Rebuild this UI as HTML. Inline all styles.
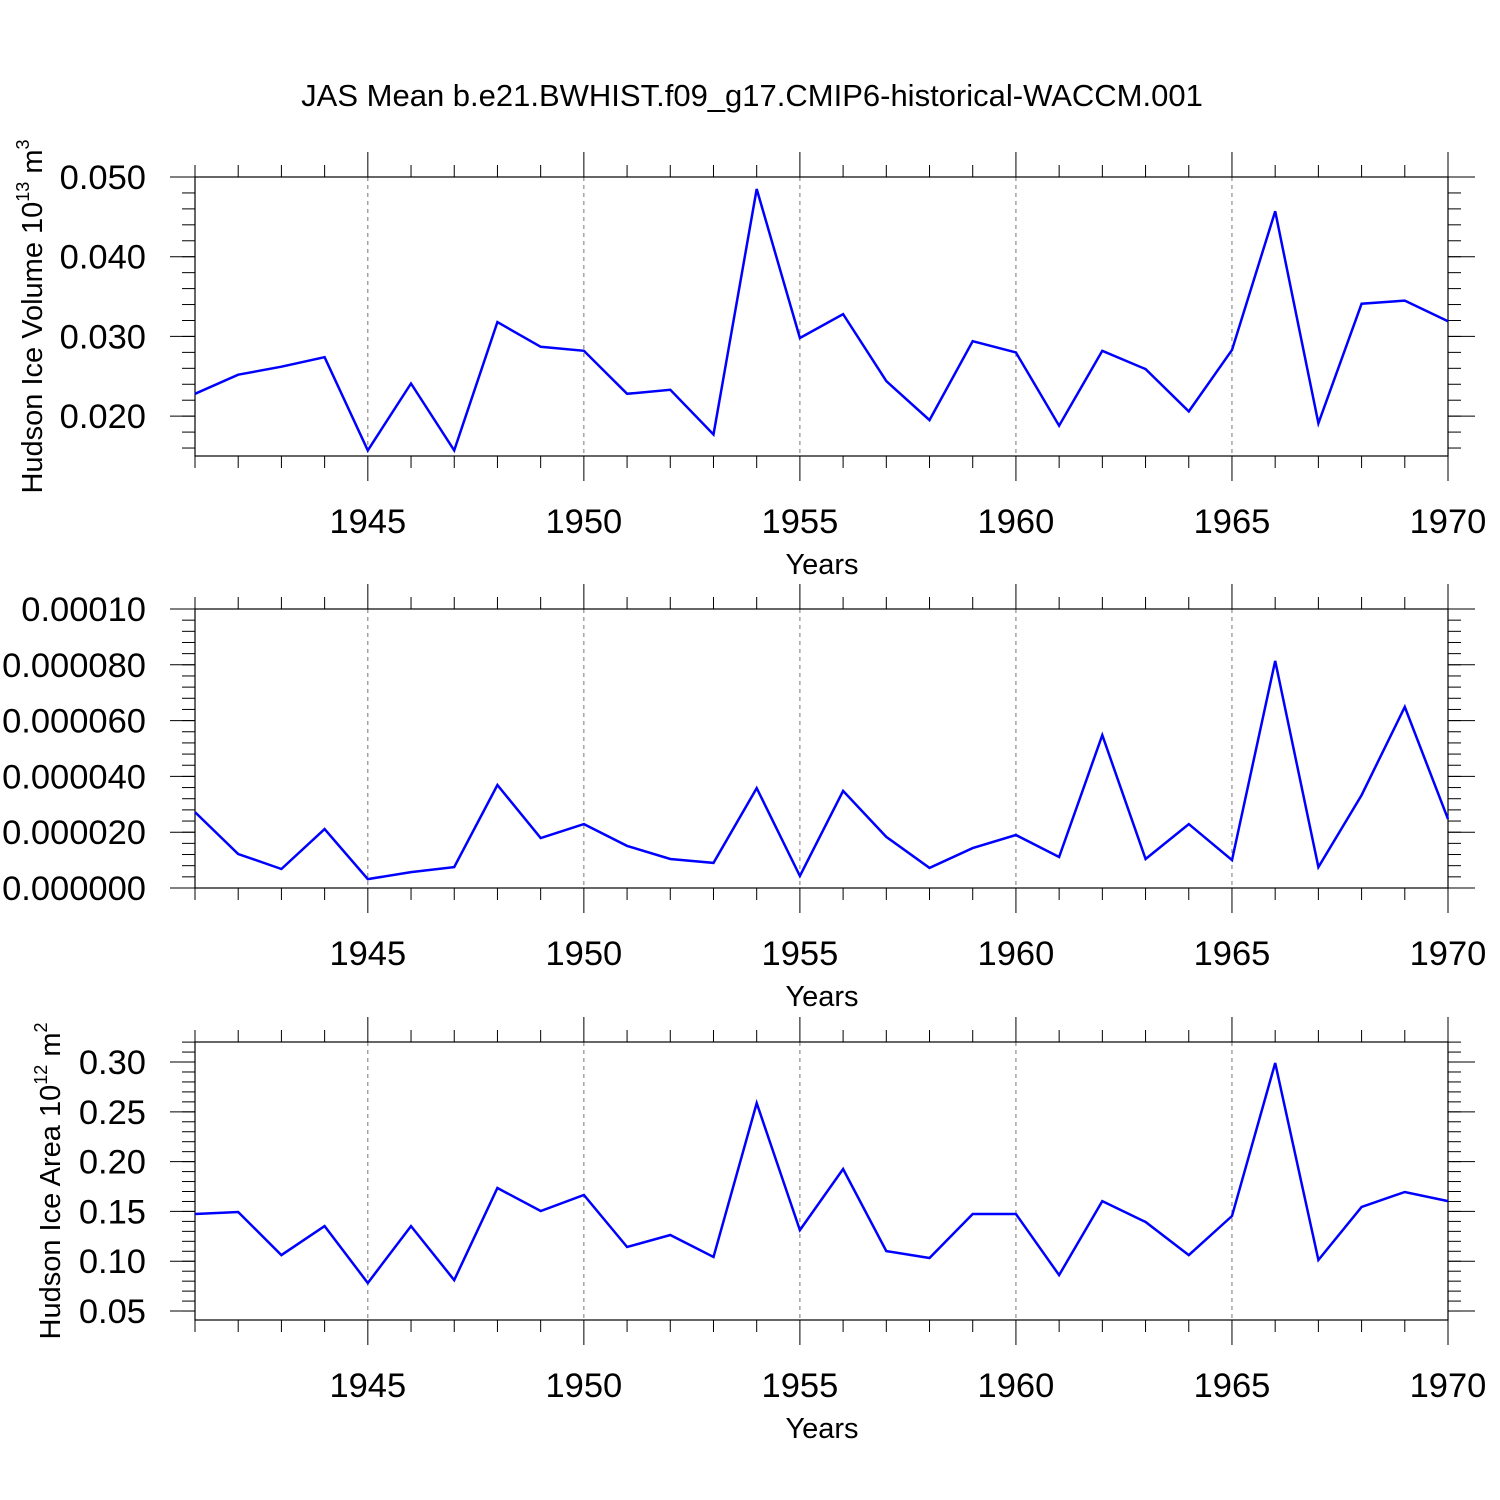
<!DOCTYPE html>
<html><head><meta charset="utf-8"><style>
html,body{margin:0;padding:0;background:#fff;}
svg{display:block;font-family:"Liberation Sans",Arial,sans-serif;}
</style></head><body>
<svg id="chart" width="1500" height="1500" viewBox="0 0 1500 1500">
<rect width="1500" height="1500" fill="#fff"/>
<text x="752" y="106" font-size="31" text-anchor="middle">JAS Mean b.e21.BWHIST.f09_g17.CMIP6-historical-WACCM.001</text>
</svg>
<script>
const years = [1941,1942,1943,1944,1945,1946,1947,1948,1949,1950,1951,1952,1953,1954,1955,1956,1957,1958,1959,1960,1961,1962,1963,1964,1965,1966,1967,1968,1969,1970];
const volumeValues = [0.0228,0.0252,0.0262,0.0274,0.0157,0.0241,0.0157,0.0318,0.0287,0.0282,0.0228,0.0233,0.0177,0.0485,0.0298,0.0328,0.0244,0.0195,0.0294,0.0280,0.0188,0.0282,0.0259,0.0206,0.0283,0.0457,0.0191,0.0341,0.0345,0.0319];
const middleValues = [0.0000272,0.0000122,0.0000068,0.0000211,0.0000032,0.0000057,0.0000075,0.0000369,0.0000179,0.0000229,0.0000151,0.0000104,0.0000090,0.0000358,0.0000043,0.0000348,0.0000183,0.0000072,0.0000143,0.0000190,0.0000111,0.0000548,0.0000104,0.0000229,0.0000100,0.0000814,0.0000075,0.0000333,0.0000649,0.0000247];
const areaValues = [0.1474,0.1494,0.1062,0.1353,0.0781,0.1353,0.0811,0.1735,0.1504,0.1665,0.1143,0.1263,0.1042,0.2588,0.1313,0.1926,0.1102,0.1032,0.1474,0.1474,0.0861,0.1604,0.1394,0.1062,0.1454,0.2990,0.1012,0.1544,0.1695,0.1604];
const xTickYears = [1945,1950,1955,1960,1965,1970];
const volumeTicks = [0.020,0.030,0.040,0.050];
const volumeTickLabels = ["0.020","0.030","0.040","0.050"];
const middleTicks = [0,0.00002,0.00004,0.00006,0.00008,0.0001];
const middleTickLabels = ["0.000000","0.000020","0.000040","0.000060","0.000080","0.00010"];
const areaTicks = [0.05,0.10,0.15,0.20,0.25,0.30];
const areaTickLabels = ["0.05","0.10","0.15","0.20","0.25","0.30"];

const svg = document.getElementById('chart');
const NS = 'http://www.w3.org/2000/svg';
const X0 = 195, X1 = 1448, YR0 = 1941, YR1 = 1970;
function xs(v){ return X0 + (v - YR0) / (YR1 - YR0) * (X1 - X0); }
function mk(tag, attrs, parent){ const e = document.createElementNS(NS, tag); for (const k in attrs) e.setAttribute(k, attrs[k]); (parent||svg).appendChild(e); return e; }

function panel(name, top, bottom, ymin, ymax, ticks, labels, minorStep, values, ytitle, ysup, yunit){
  const g = mk('g', {});
  
  
  const ys = v => bottom - (v - ymin) / (ymax - ymin) * (bottom - top);
  xTickYears.forEach(yr => {
    if (yr === YR1) return;
    const l = mk('line', {x1: xs(yr), x2: xs(yr), y1: top, y2: bottom, stroke: '#777', 'stroke-width': 1, 'stroke-dasharray': '4,4'}, g);
    
    
  });
  for (let yr = YR0; yr <= YR1; yr++) {
    const major = yr % 5 === 0;
    const len = major ? 25 : 12;
    mk('line', {x1: xs(yr), x2: xs(yr), y1: top - len, y2: top, stroke: '#000', 'stroke-width': 1}, g);
    mk('line', {x1: xs(yr), x2: xs(yr), y1: bottom, y2: bottom + len, stroke: '#000', 'stroke-width': 1}, g);
  }
  xTickYears.forEach(yr => {
    const t = mk('text', {x: xs(yr), y: bottom + 77, 'font-size': 34.5, 'text-anchor': 'middle'}, g);
    
    
    t.textContent = yr;
  });
  const xt = mk('text', {x: 822, y: bottom + 118, 'font-size': 29, 'text-anchor': 'middle'}, g);
  
  
  xt.textContent = 'Years';
  const start = Math.ceil(ymin / minorStep - 1e-6);
  for (let i = start; i * minorStep <= ymax + 1e-12; i++) {
    const y = ys(i * minorStep);
    mk('line', {x1: X0 - 13, x2: X0, y1: y, y2: y, stroke: '#000', 'stroke-width': 1}, g);
    mk('line', {x1: X1, x2: X1 + 13, y1: y, y2: y, stroke: '#000', 'stroke-width': 1}, g);
  }
  ticks.forEach((v, i) => {
    const y = ys(v);
    mk('line', {x1: X0 - 25, x2: X0, y1: y, y2: y, stroke: '#000', 'stroke-width': 1}, g);
    mk('line', {x1: X1, x2: X1 + 27, y1: y, y2: y, stroke: '#000', 'stroke-width': 1}, g);
    const t = mk('text', {x: X0 - 49, y: y + 12, 'font-size': 34.5, 'text-anchor': 'end'}, g);
    
    
    t.textContent = labels[i];
  });
  mk('rect', {x: X0, y: top, width: X1 - X0, height: bottom - top, fill: 'none', stroke: '#000', 'stroke-width': 1.2}, g);
  const d = values.map((v, i) => (i ? 'L' : 'M') + xs(years[i]).toFixed(1) + ',' + ys(v).toFixed(1)).join(' ');
  const p = mk('path', {d: d, fill: 'none', stroke: '#0000ff', 'stroke-width': 2.5, 'stroke-linejoin': 'miter'}, g);
  
  
  if (ytitle) {
    const cy = (top + bottom) / 2;
    const t = mk('text', {x: 0, y: 0, 'font-size': 29, 'text-anchor': 'middle', transform: 'translate(' + ytitle.x + ',' + cy + ') rotate(-90)'}, g);
    
    
    t.appendChild(document.createTextNode(ytitle.text + ' 10'));
    const s = mk('tspan', {'font-size': 18, dy: -13}, t); s.textContent = ysup;
    const u = mk('tspan', {dy: 13}, t); u.textContent = ' m';
    const s2 = mk('tspan', {'font-size': 18, dy: -13}, t); s2.textContent = yunit;
  }
}
panel('volume', 177, 456, 0.015, 0.050, volumeTicks, volumeTickLabels, 0.002, volumeValues, {text: 'Hudson Ice Volume', x: 42}, '13', '3');
panel('middle', 609, 888, 0, 0.0001, middleTicks, middleTickLabels, 0.000004, middleValues, null);
panel('area', 1042, 1320, 0.0410, 0.3201, areaTicks, areaTickLabels, 0.01, areaValues, {text: 'Hudson Ice Area', x: 60}, '12', '2');
</script>
</body></html>
